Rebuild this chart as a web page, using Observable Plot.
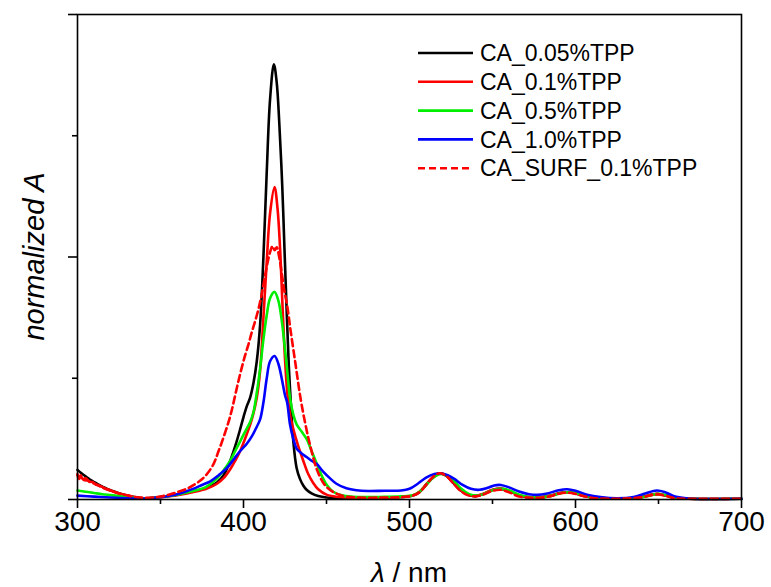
<!DOCTYPE html>
<html>
<head>
<meta charset="utf-8">
<script src="https://cdn.jsdelivr.net/npm/d3@7"></script>
<script src="https://cdn.jsdelivr.net/npm/@observablehq/plot@0.6"></script>
<style>
  html, body { margin: 0; padding: 0; background: #fff; }
  #chart svg { display: block; }
</style>
</head>
<body>
<div id="chart"></div>
<script>
// ---- data (wavelength nm, normalized absorbance) ----
const seriesNames = ["CA_0.05%TPP", "CA_0.1%TPP", "CA_0.5%TPP", "CA_1.0%TPP", "CA_SURF_0.1%TPP"];
const seriesColors = ["#000000", "#ff0000", "#00ee00", "#0000ff", "#ff0000"];
const seriesDash = [null, null, null, null, "7,4"];

const black = [[300,0.122],[302,0.11],[304,0.1],[306,0.09],[308,0.08],[310,0.072],[313,0.06],[316,0.05],[319,0.04],[322,0.033],[325,0.026],[330,0.016],[335,0.009],[340,0.005],[345,0.006],[350,0.01],[360,0.02],[370,0.034],[378,0.048],[384,0.07],[388,0.1],[392,0.16],[395,0.22],[398,0.29],[400,0.34],[402,0.385],[404,0.42],[406,0.48],[408,0.57],[410,0.72],[412,1.0],[414,1.35],[416,1.65],[418.3,1.795],[420,1.72],[421.5,1.56],[423.3,1.3],[424.7,1.03],[426,0.78],[427.3,0.55],[428.5,0.4],[430,0.24],[432,0.13],[434,0.085],[436,0.058],[438,0.04],[441,0.025],[445,0.014],[450,0.008],[460,0.006],[480,0.007],[495,0.01],[502,0.016],[506,0.03],[510,0.06],[514,0.09],[518,0.107],[522,0.098],[526,0.072],[530,0.042],[535,0.02],[540,0.014],[545,0.024],[550,0.039],[555,0.044],[560,0.035],[565,0.02],[570,0.01],[577,0.007],[585,0.015],[590,0.026],[595,0.03],[600,0.025],[606,0.013],[612,0.006],[620,0.003],[630,0.004],[640,0.01],[646,0.02],[650,0.023],[655,0.015],[660,0.006],[668,0.003],[700,0.003]];

const red = [[300,0.105],[301,0.09],[302,0.1],[303,0.085],[305,0.088],[307,0.075],[309,0.072],[311,0.062],[313,0.058],[316,0.048],[319,0.04],[322,0.032],[325,0.025],[330,0.016],[335,0.009],[340,0.005],[345,0.005],[350,0.009],[360,0.018],[370,0.031],[378,0.045],[384,0.065],[388,0.088],[392,0.125],[395,0.16],[398,0.2],[402,0.27],[405,0.33],[408,0.42],[410,0.53],[412,0.75],[414,0.98],[416,1.18],[418.7,1.288],[420.5,1.2],[422,1.04],[423.5,0.8],[425,0.58],[426.5,0.43],[428,0.35],[430,0.29],[433,0.22],[436,0.16],[439,0.105],[442,0.068],[445,0.042],[450,0.02],[458,0.01],[470,0.007],[485,0.008],[495,0.01],[502,0.017],[506,0.032],[510,0.062],[514,0.092],[518,0.108],[522,0.1],[526,0.074],[530,0.044],[535,0.021],[540,0.015],[545,0.025],[550,0.04],[555,0.045],[560,0.036],[565,0.02],[570,0.011],[577,0.008],[585,0.016],[590,0.026],[595,0.03],[600,0.025],[606,0.013],[612,0.006],[620,0.003],[630,0.004],[640,0.01],[646,0.02],[650,0.023],[655,0.015],[660,0.006],[668,0.003],[700,0.003]];

const green = [[300,0.037],[305,0.032],[310,0.027],[315,0.022],[320,0.018],[325,0.014],[330,0.01],[335,0.007],[340,0.005],[345,0.007],[350,0.01],[360,0.02],[370,0.036],[377,0.05],[383,0.08],[388,0.12],[392,0.16],[395,0.2],[398,0.24],[401,0.28],[404,0.32],[406,0.36],[408,0.44],[410,0.54],[412,0.66],[414,0.76],[416,0.83],[418.7,0.856],[421,0.82],[423,0.74],[425,0.62],[426.5,0.52],[428,0.42],[430,0.35],[432,0.31],[435,0.28],[438,0.25],[441,0.2],[444,0.15],[447,0.1],[450,0.062],[454,0.032],[460,0.016],[470,0.01],[485,0.011],[495,0.013],[502,0.018],[506,0.032],[510,0.06],[514,0.088],[519,0.105],[523,0.098],[527,0.075],[531,0.045],[536,0.022],[541,0.016],[546,0.026],[551,0.04],[556,0.044],[561,0.035],[566,0.02],[571,0.011],[578,0.008],[586,0.016],[591,0.026],[596,0.03],[601,0.025],[607,0.013],[613,0.006],[621,0.003],[631,0.004],[641,0.01],[647,0.02],[651,0.023],[656,0.015],[661,0.006],[669,0.003],[700,0.003]];

const blue = [[300,0.016],[310,0.012],[320,0.008],[330,0.005],[340,0.004],[350,0.01],[360,0.022],[370,0.045],[375,0.06],[380,0.075],[385,0.1],[390,0.13],[394,0.165],[398,0.2],[402,0.23],[405,0.26],[408,0.3],[410,0.33],[412,0.4],[414,0.5],[416,0.57],[418.7,0.592],[421,0.56],[423,0.5],[425,0.43],[426.3,0.4],[428,0.31],[430,0.25],[432,0.21],[435,0.19],[438,0.175],[441,0.16],[444,0.147],[448,0.115],[452,0.088],[456,0.065],[462,0.046],[468,0.038],[475,0.035],[485,0.036],[495,0.037],[500,0.044],[505,0.065],[510,0.09],[515,0.105],[519,0.108],[523,0.1],[527,0.085],[532,0.06],[537,0.044],[542,0.04],[547,0.048],[551,0.058],[555,0.06],[560,0.05],[566,0.033],[572,0.022],[577,0.019],[583,0.025],[590,0.038],[595,0.042],[600,0.036],[607,0.02],[615,0.01],[625,0.005],[635,0.01],[642,0.025],[649,0.037],[654,0.03],[660,0.012],[668,0.004],[700,0.003]];

const surf = [[300,0.1],[301,0.085],[302,0.095],[304,0.08],[306,0.078],[308,0.07],[310,0.066],[313,0.056],[316,0.046],[320,0.036],[325,0.025],[330,0.017],[335,0.01],[340,0.007],[345,0.008],[350,0.012],[355,0.02],[360,0.03],[366,0.045],[370,0.06],[374,0.078],[378,0.105],[382,0.147],[385,0.2],[388,0.257],[391,0.32],[393,0.37],[395,0.43],[397,0.49],[399,0.545],[401,0.595],[403,0.64],[405,0.69],[407,0.735],[409,0.785],[410.5,0.83],[412,0.885],[414,0.96],[416,1.02],[417.5,1.045],[418.8,1.028],[420,1.04],[421.5,1.0],[423,0.935],[424.5,0.865],[426.3,0.8],[428.3,0.7],[431.3,0.56],[434.3,0.42],[437.3,0.31],[440.4,0.216],[444.4,0.12],[448.4,0.065],[452,0.04],[456.4,0.023],[462,0.012],[470,0.008],[485,0.008],[495,0.01],[502,0.016],[506,0.03],[510,0.06],[514,0.092],[518,0.108],[522,0.098],[526,0.07],[530,0.04],[535,0.018],[540,0.013],[545,0.022],[550,0.036],[555,0.04],[560,0.03],[566,0.012],[572,0.008],[578,0.007],[585,0.014],[590,0.024],[595,0.028],[600,0.023],[606,0.012],[612,0.005],[620,0.003],[630,0.004],[640,0.009],[646,0.018],[650,0.021],[655,0.014],[660,0.005],[668,0.003],[700,0.003]];

const xMajorTicks = [300, 400, 500, 600, 700];
const xMinorTicks = [350, 450, 550, 650];
const yMajorTicks = [0, 1, 2];
const yMinorTicks = [0.5, 1.5];

// ---- build marks ----
const seriesData = [black, red, green, blue, surf];
const lineMarks = seriesData.map((arr, i) =>
  Plot.line(arr.map(([wl, a]) => ({wl, a})), {
    x: "wl", y: "a",
    stroke: seriesColors[i],
    strokeWidth: 2.6,
    strokeDasharray: seriesDash[i] || undefined,
    curve: "catmull-rom"
  })
);

const W = 771, H = 587;
const mL = 77, mR = 30, mT = 14, mB = 88;

const plot = Plot.plot({
  width: W, height: H,
  marginLeft: mL, marginRight: mR, marginTop: mT, marginBottom: mB,
  style: {fontFamily: "'Liberation Sans', Arial, sans-serif", background: "#fff", color: "#000"},
  x: {domain: [300, 700]},
  y: {domain: [0, 2]},
  marks: [
    ...lineMarks,
    Plot.frame({stroke: "#000", strokeWidth: 1.6}),
    Plot.axisX({ticks: xMajorTicks, tickSize: 9, tickPadding: 3, tickFormat: d => String(d), fontSize: 28, strokeWidth: 1.6, label: null}),
    Plot.axisX({ticks: xMinorTicks, tickSize: 5, tickFormat: () => "", strokeWidth: 1.6, label: null}),
    Plot.axisY({ticks: yMajorTicks, tickSize: 9, tickFormat: () => "", strokeWidth: 1.6, label: null}),
    Plot.axisY({ticks: yMinorTicks, tickSize: 5, tickFormat: () => "", strokeWidth: 1.6, label: null})
  ]
});

document.getElementById("chart").appendChild(plot);

// ---- axis titles & legend ----
const svg = d3.select(plot);
const font = "'Liberation Sans', Arial, sans-serif";

const xt = svg.append("text")
  .attr("x", mL + (W - mL - mR) / 2).attr("y", 582)
  .attr("text-anchor", "middle").attr("font-size", 28).attr("font-family", font).attr("fill", "#000");
xt.append("tspan").attr("font-style", "italic").text("λ");
xt.append("tspan").text(" / nm");

svg.append("text")
  .attr("transform", `translate(44, ${mT + (H - mT - mB) / 2}) rotate(-90)`)
  .attr("text-anchor", "middle").attr("font-size", 29).attr("font-style", "italic")
  .attr("font-family", font).attr("fill", "#000")
  .text("normalized A");

const legend = svg.append("g").attr("text-anchor", "start");
seriesNames.forEach((name, i) => {
  const y = 53 + i * 28.8;
  legend.append("line")
    .attr("x1", 418).attr("x2", 473).attr("y1", y).attr("y2", y)
    .attr("stroke", seriesColors[i]).attr("stroke-width", 2.6)
    .attr("stroke-dasharray", seriesDash[i] || null);
  legend.append("text")
    .attr("x", 480).attr("y", y).attr("dy", "0.36em")
    .attr("text-anchor", "start")
    .attr("font-size", 23).attr("font-family", font).attr("fill", "#000")
    .text(name);
});
</script>
</body>
</html>
